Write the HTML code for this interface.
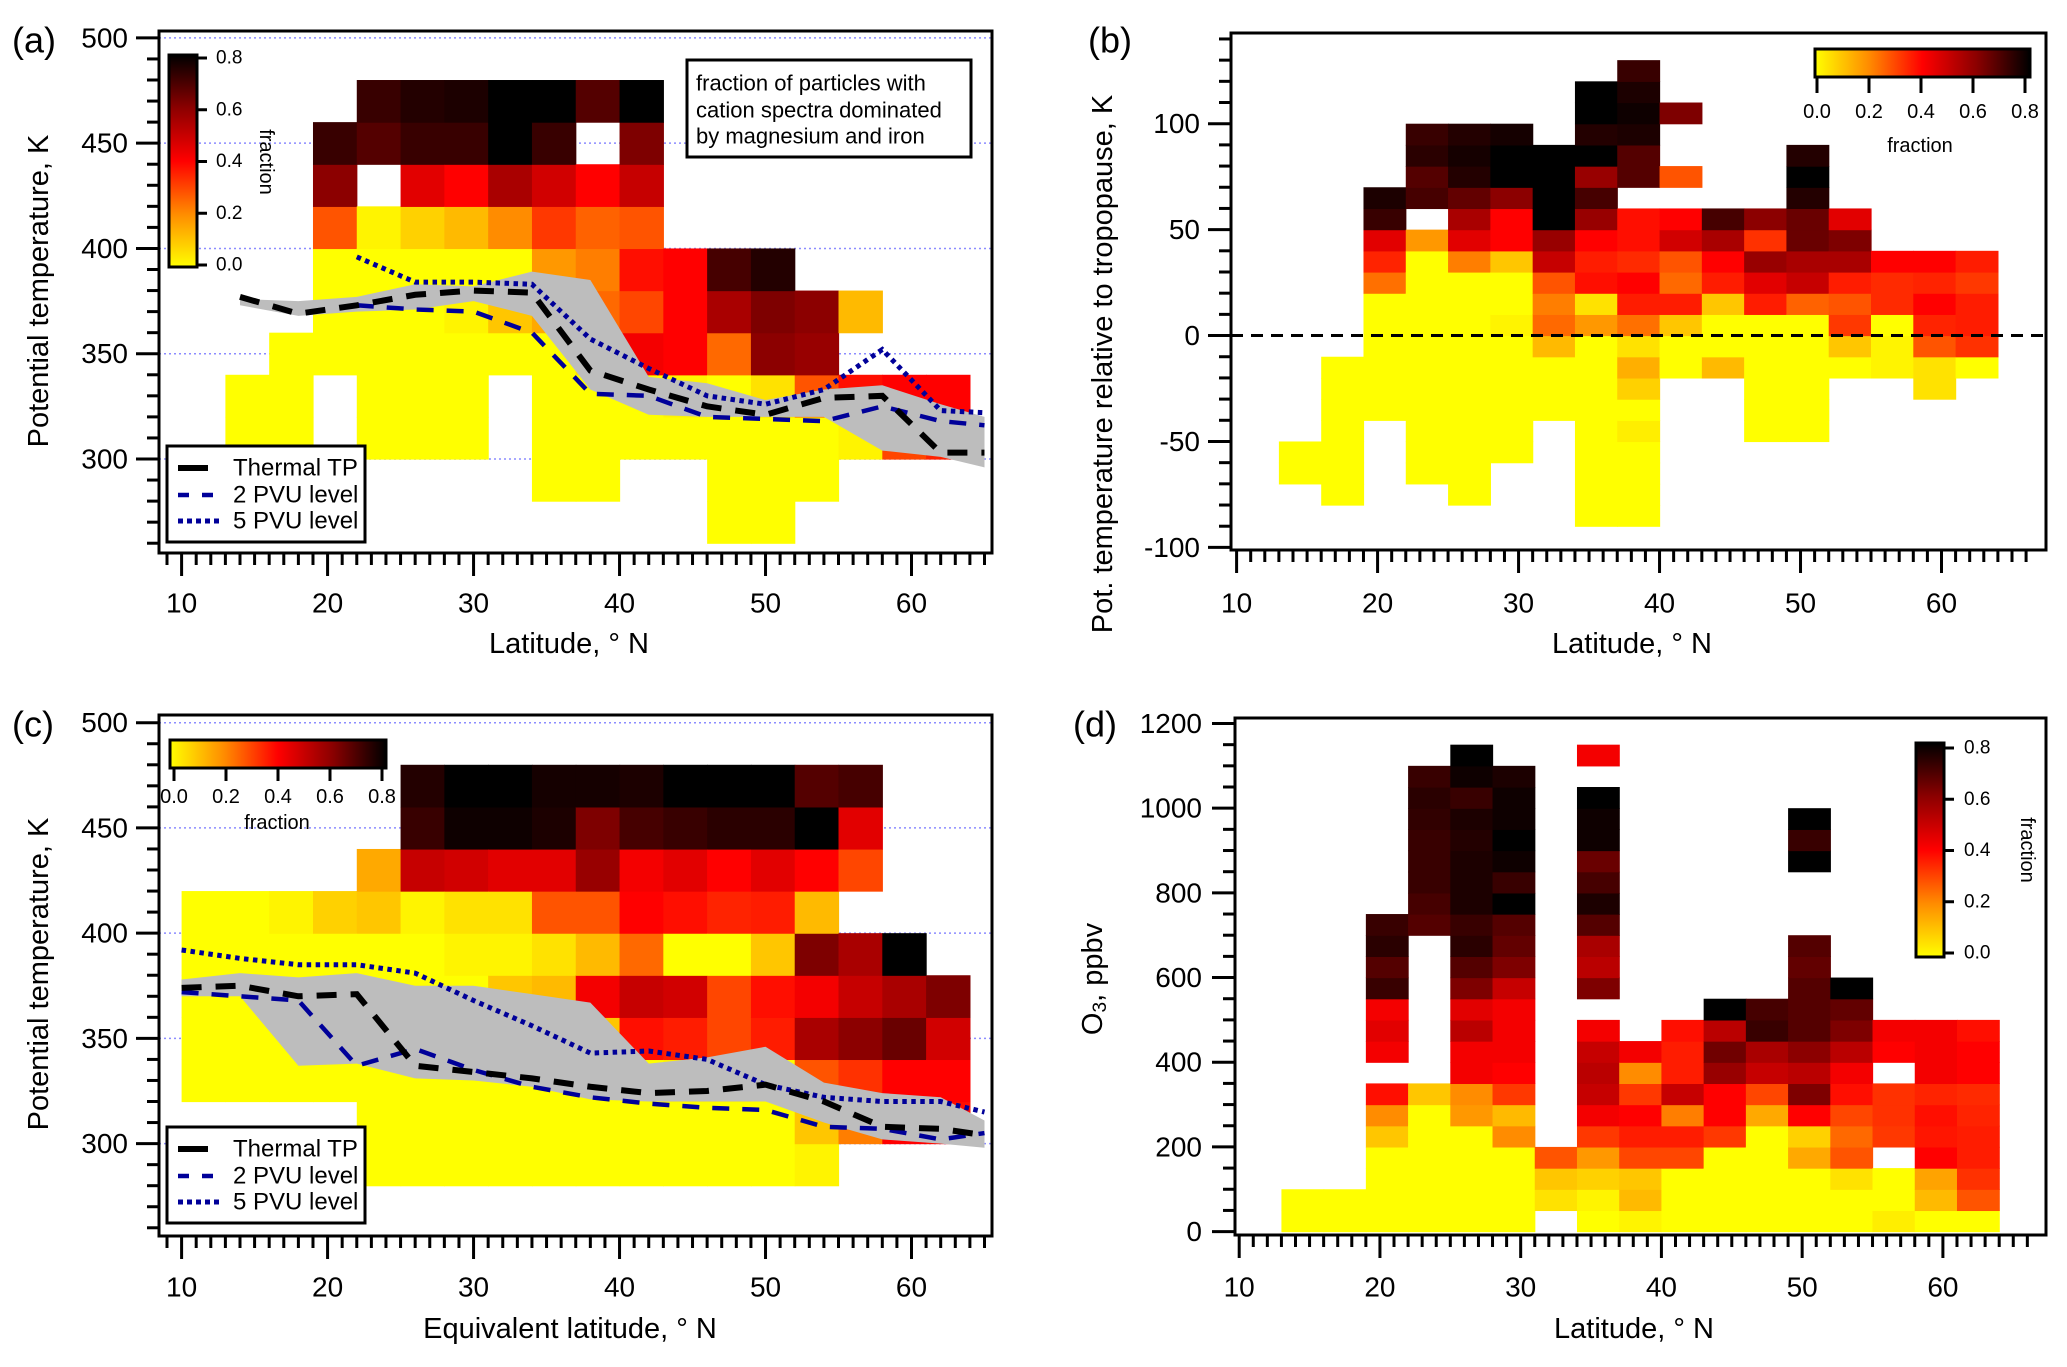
<!DOCTYPE html>
<html><head><meta charset="utf-8"><style>
html,body{margin:0;padding:0;background:#fff;}
svg{display:block;font-family:"Liberation Sans",Arial,sans-serif;}
</style></head><body>
<svg id="fig" width="2067" height="1367" viewBox="0 0 2067 1367" xmlns="http://www.w3.org/2000/svg">
<defs>
<linearGradient id="gh" x1="0" y1="0" x2="1" y2="0">
<stop offset="0" stop-color="#ffff00"/><stop offset="0.25" stop-color="#ff8c00"/><stop offset="0.5" stop-color="#ff0000"/><stop offset="0.75" stop-color="#8c0000"/><stop offset="1" stop-color="#000000"/>
</linearGradient>
<linearGradient id="gv" x1="0" y1="1" x2="0" y2="0">
<stop offset="0" stop-color="#ffff00"/><stop offset="0.25" stop-color="#ff8c00"/><stop offset="0.5" stop-color="#ff0000"/><stop offset="0.75" stop-color="#8c0000"/><stop offset="1" stop-color="#000000"/>
</linearGradient>
</defs>
</svg>
<script>
// ---------- Panel (a) data ----------
const aLat=[13,16,19,22,25,28,31,34,37,40,43,46,49,52,55,58,61];
const aBot=[300,300,340,300,300,300,340,280,280,300,300,260,260,280,300,300,300];
const aVal=[[0,0],[0,0,0],[0,0,0,0.28,0.6,0.72],[0,0,0,0,0,0.02,null,0.68,0.72],[0,0,0,0,0,0.08,0.45,0.72,0.75],[0,0,0,0.02,0,0.12,0.4,0.72,0.76],[0,0.1,0,0.2,0.55,0.8,0.8],[0,0,0,0,0.15,0.18,0.32,0.48,0.72,0.8],[0,0,0,0.05,0.25,0.22,0.26,0.4,null,0.68],[0,0,0.42,0.3,0.38,0.28,0.5,0.62,0.8],[0,0.02,0.4,0.4,0.4],[0,0,0,0,0.25,0.55,0.7],[0,0,0,0.05,0.6,0.62,0.75],[0,0,0.28,0.58,0.6],[0.02,0.38,null,0.12],[0.3,0.4],[0.35,0.4]];
const aTpLat=[14,18,22,26,30,34,38,42,46,50,54,58,62,65];
const aTp=[377,369,373,378,380,379,342,333,325,321,329,330,303,303];
const aPv2Lat=[22,26,30,34,38,42,46,50,54,58,62,65];
const aPv2=[373,371,370,360,331,330,320,319,318,325,318,316];
const aPv5Lat=[22,26,30,34,38,42,46,50,54,58,62,65];
const aPv5=[396,384,384,383,357,343,330,326,333,352,323,322];
const aBandLat=[14,18,22,26,30,34,38,42,46,50,54,58,62,65];
const aBandHi=[376,375,377,383,382,389,385,339,336,328,333,335,326,320];
const aBandLo=[373,368,370,371,375,368,333,321,320,320,320,304,301,296];
// ---------- Panel (b) data ----------
const bLat=[13,16,19,22,25,28,31,34,37,40,43,46,49,52,55,58,61];
const bBot=[-70,-80,-40,-70,-80,-60,-40,-90,-90,-20,-20,-50,-50,-20,-20,-30,-20];
const bVal=[[0,0],[0,0,0,0,0,0,0],[0,0,0,0,0,0,0.24,0.35,0.45,0.72,0.76],
[0,0,0,0,0,0,0,0,0,0,0,0.18,null,0.7,0.68,0.74,0.72],
[0,0,0,0,0,0,0,0,0,0,0,0.22,0.45,0.55,0.66,0.75,0.77,0.75],
[0,0,0,0,0,0,0.02,0,0,0.1,0.4,0.4,0.6,0.8,0.8,0.77],
[0,0,0,0.12,0.25,0.22,0.28,0.5,0.58,0.8,0.8,0.8,0.8],
[0,0,0,0,0,0,0,0,0,0.18,0.05,0.38,0.36,0.4,0.58,0.7,0.58,0.8,0.75,0.8,0.8],
[0,0,0,0,0.03,0,0.08,0.14,0.05,0.24,0.36,0.4,0.34,0.38,0.38,null,0.68,0.68,0.76,0.78,0.76,0.72],
[0,0,0.1,0.36,0.25,0.28,0.48,0.4,null,0.28,null,null,0.62],
[0.12,0,0,0.1,0.36,0.4,0.55,0.7],
[0,0,0,0,0,0,0.36,0.45,0.58,0.33,0.6],
[0,0,0,0,0,0,0.26,0.5,0.55,0.65,0.65,0.75,0.8,0.75],
[0,0.1,0.32,0.28,0.36,0.55,0.62,0.45],
[0.02,0.02,0,0.34,0.34,0.4],
[0.05,0.05,0.28,0.35,0.4,0.35,0.4],
[0,0.33,0.36,0.36,0.32,0.36]];
// ---------- Panel (c) data ----------
const cLat=[10,13,16,19,22,25,28,31,34,37,40,43,46,49,52,55,58,61];
const cBot=[320,320,320,320,280,280,280,280,280,280,280,280,280,280,280,300,300,300];
const cVal=[[0,0,0,0,0],[0,0,0,0,0],[0,0,0,0,0.02],[0,0,0,0,0.08],[0,0,0,0,0,0,0.1,0.15],
[0,0,0,0,0,0,0.02,0.5,0.72,0.75],[0,0,0,0,0,0.02,0.05,0.48,0.78,0.8],[0,0,0,0,0.1,0.02,0.05,0.45,0.78,0.8],
[0,0,0,0.05,0.12,0.05,0.28,0.45,0.76,0.77],[0,0,0,0.1,0.42,0.12,0.28,0.58,0.62,0.77],[0,0,0,0.38,0.5,0.25,0.4,0.42,0.7,0.76],
[0,0,0.02,0.36,0.48,0,0.38,0.45,0.72,0.8],[0,0,0.02,0.3,0.3,0,0.35,0.4,0.74,0.8],[0,0,0,0.36,0.38,0.1,0.36,0.45,0.74,0.8],
[0.02,0.1,0.28,0.55,0.42,0.62,0.12,0.4,0.8,0.68],[0.22,0.33,0.6,0.5,0.55,null,0.3,0.45,0.7],[0.4,0.4,0.65,0.55,0.8],[0.38,0.4,0.48,0.62]];
const cTpLat=[10,14,18,22,26,30,34,38,42,46,50,54,58,62,65];
const cTp=[374,375,370,371,337,334,331,327,324,325,328,320,308,307,304];
const cPv2Lat=[10,14,18,22,26,30,34,38,42,46,50,54,58,62,65];
const cPv2=[372,370,368,337,345,335,327,322,319,317,316,308,307,302,305];
const cPv5Lat=[10,14,18,22,26,30,34,38,42,46,50,54,58,62,65];
const cPv5=[392,388,385,385,381,368,356,343,344,340,328,322,320,320,315];
const cBandLat=[10,14,18,22,26,30,34,38,42,46,50,54,58,62,65];
const cBandHi=[378,381,379,381,375,375,371,367,338,341,346,329,324,322,311];
const cBandLo=[370,370,337,338,331,330,327,321,320,320,320,310,302,300,298];
// ---------- Panel (d) data ----------
const dLat=[13,16,19,22,25,28,31,34,37,40,43,46,49,52,55,58,61];
const dBot=[0,0,0,0,0,0,50,0,0,0,0,0,0,0,0,0,0];
const dVal=[[0,0],[0,0],[0,0,0,0,0.1,0.2,0.38,null,0.42,0.45,0.42,0.72,0.68,0.74,0.72],
[0,0,0,0,0,0,0.1,null,null,null,null,null,null,null,0.68,0.7,0.72,0.72,0.72,0.73,0.74,0.72],
[0,0,0,0,0,0.18,0.2,0.42,0.42,0.52,0.45,0.62,0.68,0.74,0.72,0.76,0.76,0.76,0.75,0.76,0.72,0.78,0.8],
[0,0,0,0,0.2,0.12,0.32,0.4,0.42,0.42,0.42,0.5,0.62,0.66,0.68,0.8,0.72,0.78,0.8,0.78,0.78,0.76],
[0.05,0.1,0.28],
[0,0.02,0.08,0.18,0.32,0.42,0.5,0.52,0.5,0.42,null,0.62,0.52,0.55,0.68,0.76,0.7,0.65,0.78,0.78,0.8,null,0.42],
[0.02,0.12,0.1,0.3,0.36,0.4,0.32,0.2,0.42],
[0,0,0,0.3,0.36,0.22,0.5,0.36,0.36,0.38],
[0,0,0,0,0.32,0.4,0.4,0.58,0.64,0.52,0.8],
[0,0,0,0,0,0.15,0.3,0.5,0.55,0.72,0.7],
[0,0,0,0.15,0.08,0.4,0.62,0.52,0.6,0.68,0.68,0.68,0.66,0.68,null,null,null,0.8,0.72,0.8],
[0,0,0.05,0.28,0.25,0.3,0.38,0.42,0.52,0.62,0.66,0.8],
[0.03,0,0,null,0.32,0.33,0.33,null,0.4,0.42],
[0,0.12,0.16,0.4,0.37,0.38,0.35,0.42,0.42,0.42],
[0,0.28,0.33,0.36,0.36,0.35,0.34,0.4,0.4,0.38]];
const cbTicks=[0,0.2,0.4,0.6,0.8];

const NS="http://www.w3.org/2000/svg";
const svg=document.getElementById('fig');
function mk(tag,attrs,parent){const e=document.createElementNS(NS,tag);for(const k in attrs)e.setAttribute(k,attrs[k]);(parent||svg).appendChild(e);return e;}
function cmap(v){const st=[[0,[255,255,0]],[0.2,[255,140,0]],[0.4,[255,0,0]],[0.6,[140,0,0]],[0.8,[0,0,0]]];v=Math.max(0,Math.min(0.8,v));for(let i=0;i<st.length-1;i++){if(v<=st[i+1][0]){const t=(v-st[i][0])/(st[i+1][0]-st[i][0]);const a=st[i][1],b=st[i+1][1];return 'rgb('+a.map((c,k)=>Math.round(c+(b[k]-c)*t)).join(',')+')';}}return '#000';}
function lin(d0,p0,d1,p1){return v=>p0+(v-d0)*(p1-p0)/(d1-d0);}

function panel(P){
  const g=mk('g',{});
  
  
  const xs=lin(10,P.x10,60,P.x60), ys=lin(P.yd0,P.yp0,P.yd1,P.yp1);
  if(P.grid){P.grid.forEach(v=>{const l=mk('line',{x1:P.L,x2:P.R,y1:ys(v),y2:ys(v),stroke:'#8c8cff','stroke-width':1.5,'stroke-dasharray':'2 3'},g);
    
    });}
  P.lats.forEach((lat,i)=>{P.vals[i].forEach((v,j)=>{if(v===null)return;const y0=P.bots[i]+j*P.h;
    const r=mk('rect',{x:xs(lat),y:ys(y0+P.h),width:xs(lat+3)-xs(lat)+0.6,height:ys(y0)-ys(y0+P.h)+0.6,fill:cmap(v)},g);
    
    });});
  if(P.lines){const L=P.lines;
    const pts=L.bandLat.map((la,k)=>xs(la)+','+ys(L.bandHi[k])).concat(L.bandLat.map((la,k)=>xs(la)+','+ys(L.bandLo[k])).reverse());
    const band=mk('polygon',{points:pts.join(' '),fill:'#bdbdbd',stroke:'none'},g);
    
    
    const p2=mk('polyline',{points:L.pv2Lat.map((la,k)=>xs(la)+','+ys(L.pv2[k])).join(' '),fill:'none',stroke:'#000099','stroke-width':4.5,'stroke-dasharray':'17 13'},g);
    
    
    const p5=mk('polyline',{points:L.pv5Lat.map((la,k)=>xs(la)+','+ys(L.pv5[k])).join(' '),fill:'none',stroke:'#000099','stroke-width':5,'stroke-dasharray':'4.5 4.5'},g);
    
    
    const tp=mk('polyline',{points:L.tpLat.map((la,k)=>xs(la)+','+ys(L.tp[k])).join(' '),fill:'none',stroke:'#000','stroke-width':6,'stroke-dasharray':'20 14'},g);
    
    }
  if(P.zero){const z=mk('line',{x1:P.L,x2:P.R,y1:ys(0),y2:ys(0),stroke:'#000','stroke-width':3,'stroke-dasharray':'12 8'},g);
    
    }
  const fr=mk('rect',{x:P.L,y:P.T,width:P.R-P.L,height:P.B-P.T,fill:'none',stroke:'#000','stroke-width':3},g);
  
  
  for(let v=P.xmin;v<=P.xmax;v++){const major=v%10===0;const t=mk('line',{x1:xs(v),x2:xs(v),y1:P.B,y2:P.B+(major?23:12),stroke:'#000','stroke-width':3},g);
    
    
    if(major&&v<=60){const tx=mk('text',{x:xs(v),y:P.xlab,'font-size':28,'text-anchor':'middle','dominant-baseline':'central'},g);tx.textContent=v;
      
      }}
  for(let v=P.ymin;v<=P.ymax+1e-6;v+=P.ymi){const major=Math.abs(v%P.yma)<1e-6;const t=mk('line',{x1:P.L,x2:P.L-(major?23:12),y1:ys(v),y2:ys(v),stroke:'#000','stroke-width':3},g);
    
    
    if(major&&v>=P.ylabMin&&v<=P.ylabMax){const tx=mk('text',{x:P.ylabX,y:ys(v),'font-size':28,'text-anchor':'end','dominant-baseline':'central'},g);tx.textContent=v;
      
      }}
  const xt=mk('text',{x:P.xtX,y:P.xtY,'font-size':29,'text-anchor':'middle','dominant-baseline':'central'},g);xt.textContent=P.xtitle;
  
  
  const yt=mk('text',{x:0,y:0,'font-size':29,'text-anchor':'middle','dominant-baseline':'central',transform:'translate('+P.ytX+','+P.ytY+') rotate(-90)'},g);
  if(P.o3){yt.innerHTML='O<tspan font-size="19" dy="7">3</tspan><tspan dy="-7">, ppbv</tspan>';}else yt.textContent=P.ytitle;
  
  
  const pl=mk('text',{x:P.plX,y:P.plY,'font-size':36,'dominant-baseline':'central'},g);pl.textContent=P.label;
  
  
  return g;
}
function cbarV(x0,x1,y0,y1,yTop,yBot,labX,fx,fy){
  const g=mk('g',{});
  
  
  mk('rect',{x:x0,y:y0,width:x1-x0,height:y1-y0,fill:'url(#gv)',stroke:'#000','stroke-width':3},g);
  const ys=lin(0,yBot,0.8,yTop);
  cbTicks.forEach(v=>{mk('line',{x1:x1,x2:x1+10,y1:ys(v),y2:ys(v),stroke:'#000','stroke-width':3},g);
    const t=mk('text',{x:labX,y:ys(v),'font-size':19,'dominant-baseline':'central'},g);t.textContent=v.toFixed(1);
    
    });
  const f=mk('text',{x:0,y:0,'font-size':20,'text-anchor':'middle','dominant-baseline':'central',transform:'translate('+fx+','+fy+') rotate(90)'},g);f.textContent='fraction';
  
  
}
function cbarH(x0,x1,y0,y1,xL,xR,tickEnd,labY,fx,fy){
  const g=mk('g',{});
  
  
  mk('rect',{x:x0,y:y0,width:x1-x0,height:y1-y0,fill:'url(#gh)',stroke:'#000','stroke-width':3},g);
  const xs=lin(0,xL,0.8,xR);
  cbTicks.forEach(v=>{mk('line',{x1:xs(v),x2:xs(v),y1:y1,y2:tickEnd,stroke:'#000','stroke-width':3},g);
    const t=mk('text',{x:xs(v),y:labY,'font-size':20,'text-anchor':'middle','dominant-baseline':'central'},g);t.textContent=v.toFixed(1);
    
    });
  const f=mk('text',{x:fx,y:fy,'font-size':20,'text-anchor':'middle','dominant-baseline':'central'},g);f.textContent='fraction';
  
  
}
function legend(x0,y0,x1,y1,ey){
  const g=mk('g',{});
  
  
  mk('rect',{x:x0,y:y0,width:x1-x0,height:y1-y0,fill:'#fff',stroke:'#000','stroke-width':3},g);
  const st=[['#000',6,'20 0','Thermal TP'],['#000099',4.5,'11 13','2 PVU level'],['#000099',5,'5 4','5 PVU level']];
  st.forEach((s,k)=>{const e=mk('g',{},g);
    
    
    mk('line',{x1:178,x2:k==0?208:220,y1:ey[k],y2:ey[k],stroke:s[0],'stroke-width':s[1],'stroke-dasharray':s[2]},e);
    const t=mk('text',{x:233,y:ey[k],'font-size':24,'dominant-baseline':'central'},e);t.textContent=s[3];});
}

panel({name:'panel-a',L:159,R:992,T:31,B:553,x10:181.6,x60:911.5,yd0:500,yp0:37.9,yd1:300,yp1:459,lats:aLat,bots:aBot,vals:aVal,h:20,
  grid:[300,350,400,450,500],lines:{tpLat:aTpLat,tp:aTp,pv2Lat:aPv2Lat,pv2:aPv2,pv5Lat:aPv5Lat,pv5:aPv5,bandLat:aBandLat,bandHi:aBandHi,bandLo:aBandLo},
  xmin:9,xmax:65,ymin:260,ymax:500,ymi:10,yma:50,ylabMin:300,ylabMax:500,ylabX:128,xlab:603,xtX:569,xtY:644,xtitle:'Latitude, ° N',ytX:39,ytY:291,ytitle:'Potential temperature, K',plX:12,plY:40,label:'(a)'});
panel({name:'panel-b',L:1231,R:2046,T:33,B:550,x10:1236.6,x60:1941.5,yd0:100,yp0:123.7,yd1:-100,yp1:547.4,lats:bLat,bots:bBot,vals:bVal,h:10,zero:true,
  xmin:10,xmax:66,ymin:-100,ymax:140,ymi:10,yma:50,ylabMin:-100,ylabMax:100,ylabX:1200,xlab:603,xtX:1632,xtY:644,xtitle:'Latitude, ° N',ytX:1103,ytY:364,ytitle:'Pot. temperature relative to tropopause, K',plX:1088,plY:40,label:'(b)'});
panel({name:'panel-c',L:159,R:992,T:715,B:1236,x10:181.6,x60:911.5,yd0:500,yp0:722.7,yd1:300,yp1:1143.6,lats:cLat,bots:cBot,vals:cVal,h:20,
  grid:[300,350,400,450,500],lines:{tpLat:cTpLat,tp:cTp,pv2Lat:cPv2Lat,pv2:cPv2,pv5Lat:cPv5Lat,pv5:cPv5,bandLat:cBandLat,bandHi:cBandHi,bandLo:cBandLo},
  xmin:9,xmax:65,ymin:260,ymax:500,ymi:10,yma:50,ylabMin:300,ylabMax:500,ylabX:128,xlab:1287,xtX:570,xtY:1329,xtitle:'Equivalent latitude, ° N',ytX:39,ytY:974,ytitle:'Potential temperature, K',plX:12,plY:724,label:'(c)'});
panel({name:'panel-d',L:1235,R:2046,T:718,B:1235,x10:1239.2,x60:1942.9,yd0:1200,yp0:723.5,yd1:0,yp1:1231.6,lats:dLat,bots:dBot,vals:dVal,h:50,o3:true,
  xmin:10,xmax:66,ymin:0,ymax:1200,ymi:50,yma:200,ylabMin:0,ylabMax:1200,ylabX:1202,xlab:1287,xtX:1634,xtY:1329,xtitle:'Latitude, ° N',ytX:1093,ytY:979,plX:1073,plY:724,label:'(d)'});

cbarV(169,197,55,267,58,265,216,266,162);
cbarH(1815,2030,49,77,1817,2025,93,112,1920,146);
cbarH(170,386,740,768,174,382,781,797,277,823);
cbarV(1916,1944,743,957,748,953,1964,2027,850);
legend(167,446,365,542,[468,495,521]);
legend(167,1127,365,1223,[1149,1176,1202]);
const ann=mk('g',{});


mk('rect',{x:687,y:60,width:284,height:97,fill:'#fff',stroke:'#000','stroke-width':3},ann);
['fraction of particles with','cation spectra dominated','by magnesium and iron'].forEach((s,k)=>{const t=mk('text',{x:696,y:[83,110,136][k],'font-size':22,'dominant-baseline':'central'},ann);t.textContent=s;});
</script>
</body></html>
